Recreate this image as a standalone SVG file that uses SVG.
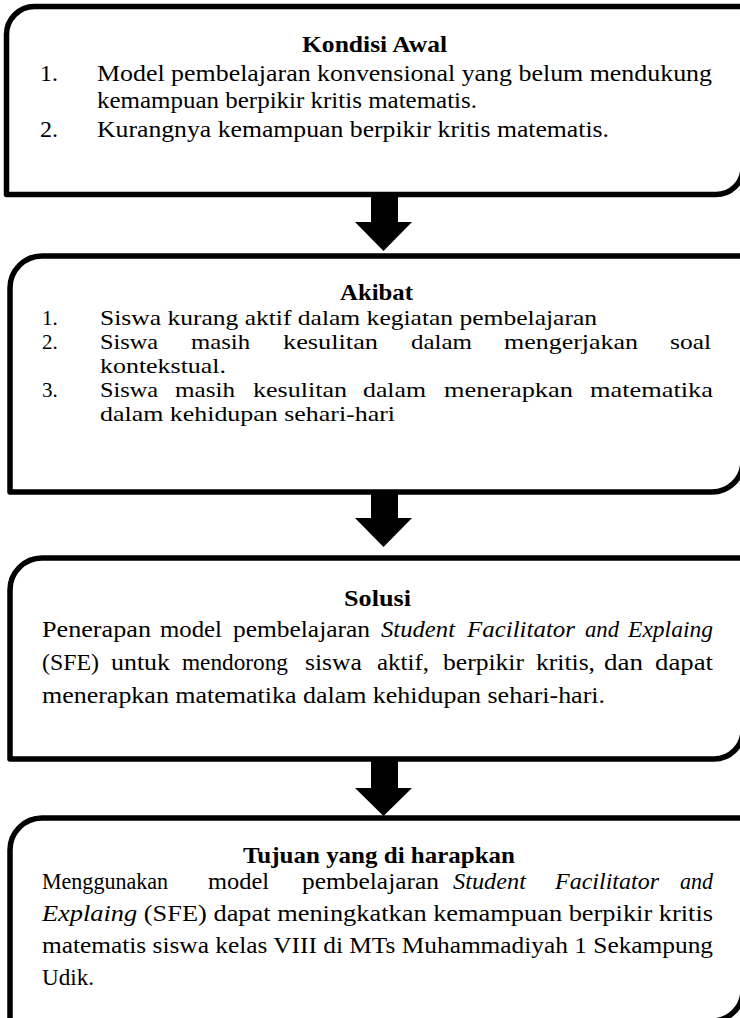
<svg xmlns="http://www.w3.org/2000/svg" width="740" height="1018" viewBox="0 0 740 1018">
<style>
.box{fill:#fff;stroke:#000;stroke-width:5.5;stroke-linejoin:round}
.arr{fill:#000;stroke:none}
text{font-family:"Liberation Serif","Times New Roman",serif;font-size:24px;fill:#000}
.s{font-size:21px}
.t{font-weight:bold}
.i{font-style:italic}
</style>
<rect width="740" height="1018" fill="#fff"/>
<g id="connectors">
<path class="arr" d="M371 196H398V222H412L383.5 251L355 222H371Z"/>
<path class="arr" d="M371 494H398V518H412L383.5 547L355 518H371Z"/>
<path class="arr" d="M371 761H398V788H412L383.5 816L355 788H371Z"/>
</g>
<g id="kondisi-awal">
<path class="box" d="M6.5 194.5V34.5A28 28 0 0 1 34.5 6.5H743V168.5A27 27 0 0 1 716 194.5Z"/>
<text class="t" x="302" y="52" textLength="145" lengthAdjust="spacingAndGlyphs">Kondisi Awal</text>
<text x="40" y="81">1.</text>
<text x="97" y="81" textLength="615" lengthAdjust="spacingAndGlyphs">Model pembelajaran konvensional yang belum mendukung</text>
<text x="97" y="108" textLength="380" lengthAdjust="spacingAndGlyphs">kemampuan berpikir kritis matematis.</text>
<text x="40" y="137">2.</text>
<text x="97" y="137" textLength="512" lengthAdjust="spacingAndGlyphs">Kurangnya kemampuan berpikir kritis matematis.</text>
</g>
<g id="akibat">
<path class="box" d="M10 492V288A32 32 0 0 1 42 256H743V462A31 31 0 0 1 712 492Z"/>
<text class="t" x="340" y="300" textLength="73" lengthAdjust="spacingAndGlyphs">Akibat</text>
<text class="s" x="42" y="325">1.</text>
<text class="s" x="100" y="325" textLength="497" lengthAdjust="spacingAndGlyphs">Siswa kurang aktif dalam kegiatan pembelajaran</text>
<text class="s" x="42" y="349">2.</text>
<g class="s">
<text class="s" x="100" y="349" textLength="58" lengthAdjust="spacingAndGlyphs">Siswa</text>
<text class="s" x="191" y="349" textLength="59" lengthAdjust="spacingAndGlyphs">masih</text>
<text class="s" x="283" y="349" textLength="95" lengthAdjust="spacingAndGlyphs">kesulitan</text>
<text class="s" x="411" y="349" textLength="61" lengthAdjust="spacingAndGlyphs">dalam</text>
<text class="s" x="504" y="349" textLength="134" lengthAdjust="spacingAndGlyphs">mengerjakan</text>
<text class="s" x="670" y="349" textLength="41" lengthAdjust="spacingAndGlyphs">soal</text>
</g>
<text class="s" x="100" y="373" textLength="126" lengthAdjust="spacingAndGlyphs">kontekstual.</text>
<text class="s" x="42" y="397">3.</text>
<g>
<text class="s" x="100" y="397" textLength="58" lengthAdjust="spacingAndGlyphs">Siswa</text>
<text class="s" x="175" y="397" textLength="60" lengthAdjust="spacingAndGlyphs">masih</text>
<text class="s" x="253" y="397" textLength="94" lengthAdjust="spacingAndGlyphs">kesulitan</text>
<text class="s" x="363" y="397" textLength="63" lengthAdjust="spacingAndGlyphs">dalam</text>
<text class="s" x="444" y="397" textLength="129" lengthAdjust="spacingAndGlyphs">menerapkan</text>
<text class="s" x="590" y="397" textLength="123" lengthAdjust="spacingAndGlyphs">matematika</text>
</g>
<text class="s" x="100" y="421" textLength="295" lengthAdjust="spacingAndGlyphs">dalam kehidupan sehari-hari</text>
</g>
<g id="solusi">
<path class="box" d="M10 759V590A32 32 0 0 1 42 558H743V730A29 29 0 0 1 714 759Z"/>
<text class="t" x="344" y="606" textLength="67" lengthAdjust="spacingAndGlyphs">Solusi</text>
<g>
<text x="42" y="637" textLength="109" lengthAdjust="spacingAndGlyphs">Penerapan</text>
<text x="160" y="637" textLength="62" lengthAdjust="spacingAndGlyphs">model</text>
<text x="233" y="637" textLength="137" lengthAdjust="spacingAndGlyphs">pembelajaran</text>
<text class="i" x="381" y="637" textLength="74" lengthAdjust="spacingAndGlyphs">Student</text>
<text class="i" x="467" y="637" textLength="108" lengthAdjust="spacingAndGlyphs">Facilitator</text>
<text class="i" x="585" y="637" textLength="34" lengthAdjust="spacingAndGlyphs">and</text>
<text class="i" x="628" y="637" textLength="85" lengthAdjust="spacingAndGlyphs">Explaing</text>
</g>
<g>
<text x="42" y="670" textLength="57" lengthAdjust="spacingAndGlyphs">(SFE)</text>
<text x="111" y="670" textLength="59" lengthAdjust="spacingAndGlyphs">untuk</text>
<text x="182" y="670" textLength="106" lengthAdjust="spacingAndGlyphs">mendorong</text>
<text x="305" y="670" textLength="57" lengthAdjust="spacingAndGlyphs">siswa</text>
<text x="377" y="670" textLength="52" lengthAdjust="spacingAndGlyphs">aktif,</text>
<text x="443" y="670" textLength="81" lengthAdjust="spacingAndGlyphs">berpikir</text>
<text x="536" y="670" textLength="59" lengthAdjust="spacingAndGlyphs">kritis,</text>
<text x="604" y="670" textLength="39" lengthAdjust="spacingAndGlyphs">dan</text>
<text x="655" y="670" textLength="58" lengthAdjust="spacingAndGlyphs">dapat</text>
</g>
<text x="42" y="703" textLength="563" lengthAdjust="spacingAndGlyphs">menerapkan matematika dalam kehidupan sehari-hari.</text>
</g>
<g id="tujuan">
<path class="box" d="M10 1021V850A32 32 0 0 1 42 818H743V990A31 31 0 0 1 712 1021Z"/>
<text class="t" x="243" y="863" textLength="272" lengthAdjust="spacingAndGlyphs">Tujuan yang di harapkan</text>
<g>
<text x="42" y="889" textLength="126" lengthAdjust="spacingAndGlyphs">Menggunakan</text>
<text x="208" y="889" textLength="61" lengthAdjust="spacingAndGlyphs">model</text>
<text x="302" y="889" textLength="137" lengthAdjust="spacingAndGlyphs">pembelajaran</text>
<text class="i" x="453" y="889" textLength="73" lengthAdjust="spacingAndGlyphs">Student</text>
<text class="i" x="555" y="889" textLength="104" lengthAdjust="spacingAndGlyphs">Facilitator</text>
<text class="i" x="680" y="889" textLength="33" lengthAdjust="spacingAndGlyphs">and</text>
</g>
<text x="42" y="921" textLength="671" lengthAdjust="spacingAndGlyphs"><tspan class="i">Explaing</tspan> (SFE)  dapat meningkatkan kemampuan berpikir kritis</text>
<text x="42" y="953" textLength="671" lengthAdjust="spacingAndGlyphs">matematis siswa kelas VIII di MTs Muhammadiyah 1 Sekampung</text>
<text x="42" y="985" textLength="52" lengthAdjust="spacingAndGlyphs">Udik.</text>
</g>
</svg>
